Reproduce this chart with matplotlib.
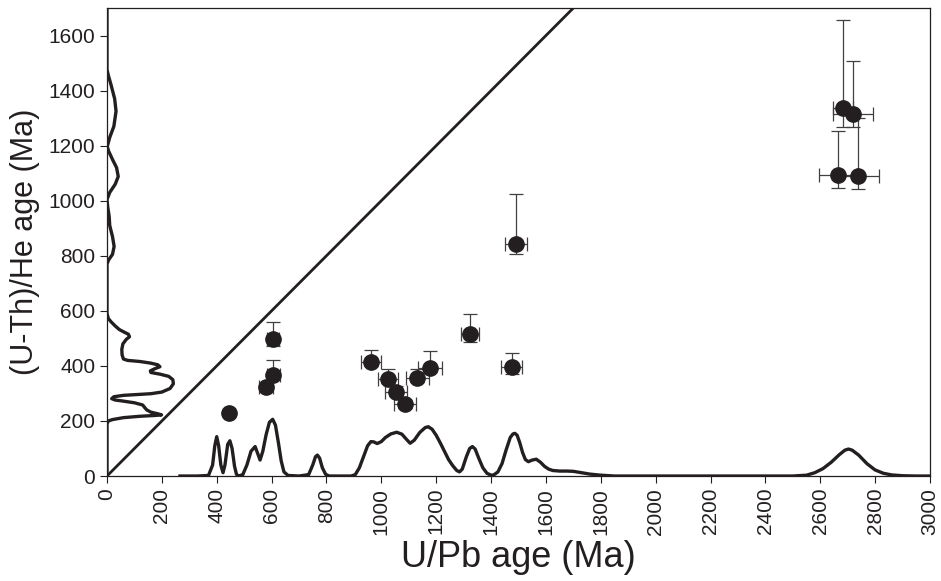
import numpy as np
import matplotlib
matplotlib.use("Agg")
import matplotlib.pyplot as plt

plt.rcParams['font.family'] = ['Liberation Sans', 'DejaVu Sans']

# U/Pb vs (U-Th)/He ages, Ma
upb_age = [445, 580, 606, 606, 961, 1023, 1054, 1086, 1131, 1178, 1323, 1475, 1491, 2665, 2683, 2720, 2739]
he_age = [229, 323, 367, 498, 413, 352, 304, 261, 357, 394, 515, 395, 844, 1095, 1338, 1316, 1091]
upb_err = [12, 25, 23, 22, 36, 36, 40, 40, 42, 44, 33, 37, 41, 69, 36, 73, 75]
he_err_lo = [12, 12, 15, 25, 15, 15, 15, 15, 15, 15, 29, 24, 37, 47, 69, 47, 48]
he_err_hi = [12, 15, 55, 61, 45, 37, 24, 15, 32, 61, 73, 51, 181, 160, 317, 193, 211]

# U/Pb age density curve along the x axis (age, height in y-axis units)
kde_x_age = [266, 330, 370, 385, 393, 400, 407, 415, 423, 430, 440, 448, 456, 465, 472, 480,
             495, 510, 525, 540, 550, 558, 568, 580, 592, 604, 614, 625, 635, 645, 660, 700,
             735, 750, 760, 767, 775, 785, 797, 810, 890, 905, 920, 935, 950, 962, 972, 985,
             1000, 1015, 1035, 1056, 1075, 1090, 1105, 1120, 1140, 1160, 1171, 1185, 1200, 1215,
             1230, 1245, 1260, 1275, 1285, 1295, 1310, 1322, 1332, 1342, 1355, 1370, 1385, 1400,
             1410, 1425, 1440, 1455, 1470, 1480, 1487, 1495, 1505, 1515, 1525, 1536, 1550, 1565,
             1580, 1595, 1610, 1625, 1650, 1676, 1700, 1730, 1760, 1800, 1850, 2500, 2550, 2580,
             2610, 2640, 2670, 2690, 2703, 2716, 2740, 2770, 2800, 2830, 2860, 2900, 2950, 3000]
kde_x_dens = [0, 0, 2, 40, 110, 143, 110, 40, 12, 40, 115, 128, 100, 35, 6, 0,
              5, 40, 90, 107, 80, 58, 90, 150, 195, 206, 185, 120, 55, 15, 2, 0,
              5, 40, 70, 76, 65, 30, 6, 0, 0, 5, 30, 70, 110, 125, 124, 118,
              125, 140, 153, 159, 152, 135, 119, 130, 158, 176, 179, 170, 148, 120,
              90, 60, 38, 20, 15, 25, 70, 100, 107, 98, 65, 30, 10, 3,
              4, 15, 45, 95, 140, 153, 155, 148, 120, 85, 60, 52, 58, 61,
              50, 35, 25, 20, 18, 18, 17, 12, 7, 3, 0, 0, 3, 12,
              27, 50, 78, 94, 98, 94, 76, 45, 22, 10, 4, 1, 0, 0]

# (U-Th)/He age density curve along the y axis (height in x-axis units, age)
kde_y_dens = [0, 0, 5, 20, 60, 120, 175, 199, 185, 160, 145, 138, 130, 100, 60, 30,
              17, 25, 60, 110, 160, 200, 230, 242, 240, 225, 193, 160, 158, 175, 193, 185,
              160, 120, 75, 60, 55, 54, 58, 70, 82, 78, 60, 45, 30, 15,
              5, 0, 0, 6, 20, 26, 20, 10, 8, 3, 0, 10, 30, 41, 35, 20,
              6, 1, 10, 25, 33, 28, 15, 5, 0, 0]
kde_y_age = [0, 190, 200, 205, 212, 217, 220, 222, 226, 232, 240, 248, 258, 266, 272, 276,
             281, 288, 293, 296, 299, 305, 318, 335, 350, 362, 370, 376, 382, 390, 397, 404,
             410, 416, 420, 425, 440, 460, 480, 496, 506, 515, 524, 532, 545, 560,
             572, 590, 770, 785, 805, 834, 870, 910, 943, 975, 1004, 1030, 1060, 1088, 1120, 1150,
             1180, 1197, 1230, 1270, 1325, 1370, 1420, 1455, 1476, 1700]

ink = '#231f20'

fig = plt.figure(figsize=(9.41, 5.81), dpi=100)
ax = fig.add_axes([0.1137, 0.1807, 0.8746, 0.8055])

ax.plot([0, 1700], [0, 1700], color=ink, lw=2.0, solid_capstyle='butt')
ax.plot(kde_x_age, kde_x_dens, color=ink, lw=2.4, solid_joinstyle='round')
ax.plot(kde_y_dens, kde_y_age, color=ink, lw=2.4, solid_joinstyle='round')

ax.errorbar(upb_age, he_age, xerr=upb_err, yerr=[he_err_lo, he_err_hi],
            fmt='o', ms=11, mfc=ink, mec=ink, ecolor='#404040', elinewidth=0.9,
            capsize=5, capthick=0.9, zorder=5)

ax.set_xlim(0, 3000)
ax.set_ylim(0, 1700)
ax.set_xticks(np.arange(0, 3001, 200))
ax.set_yticks(np.arange(0, 1601, 200))
ax.tick_params(axis='x', labelrotation=90)
ax.tick_params(direction='out', length=5, width=0.8, labelsize=15, color=ink, labelcolor=ink)
for s in ax.spines.values():
    s.set_linewidth(0.9)
    s.set_color(ink)

ax.set_xlabel('U/Pb age (Ma)', fontsize=26, color=ink, labelpad=4)
ax.set_ylabel('(U-Th)/He age (Ma)', fontsize=22, color=ink, labelpad=6)

fig.savefig('out.png', dpi=100)
